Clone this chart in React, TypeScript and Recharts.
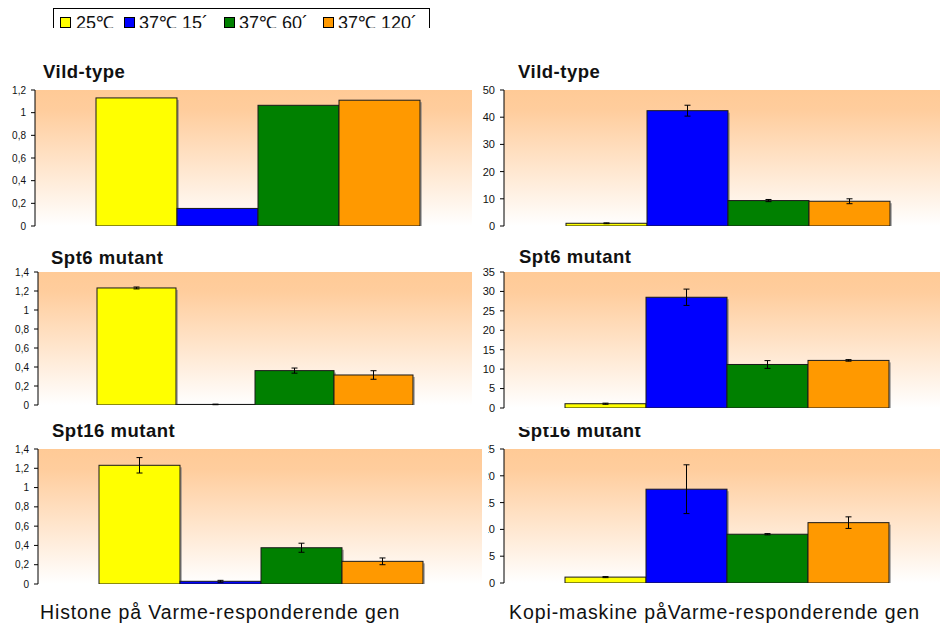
import React from 'react';
import { BarChart, Bar, XAxis, YAxis, CartesianGrid, ErrorBar } from 'recharts';

const seriesNames = ['25℃', '37℃ 15´', '37℃ 60´', '37℃ 120´'];
const seriesColors = ['#FFFF00', '#0000FF', '#008000', '#FF9900'];

// histone on the heat-responsive gene
const histoneWildValues = [1.13, 0.155, 1.065, 1.11];
const histoneSpt6Values = [1.232, 0.006, 0.362, 0.316];
const histoneSpt6Errors = [0.01, 0.003, 0.027, 0.045];
const histoneSpt16Values = [1.231, 0.028, 0.376, 0.235];
const histoneSpt16Errors = [0.08, 0.01, 0.047, 0.035];

// polymerase ("kopi-maskine") on the heat-responsive gene
const polWildValues = [1.0, 42.4, 9.35, 9.1];
const polWildErrors = [0.15, 2.0, 0.4, 0.9];
const polSpt6Values = [1.1, 28.5, 11.2, 12.25];
const polSpt6Errors = [0.15, 2.1, 1.0, 0.2];
const polSpt16Values = [1.1, 17.5, 9.1, 11.26];
const polSpt16Errors = [0.1, 4.55, 0.12, 1.08];

const histoneTicks12 = [0, 0.2, 0.4, 0.6, 0.8, 1, 1.2];
const histoneTicks14 = [0, 0.2, 0.4, 0.6, 0.8, 1, 1.2, 1.4];
const polTicksWild = [0, 10, 20, 30, 40, 50];
const polTicksSpt6 = [0, 5, 10, 15, 20, 25, 30, 35];
const polTicksSpt16 = [0, 5, 10, 15, 20, 25];

const leftCaption = 'Histone på Varme-responderende gen';
const rightCaption = 'Kopi-maskine påVarme-responderende gen';

const FONT = '"Liberation Sans", Arial, Helvetica, sans-serif';

const buildRow = (values: number[], errors?: number[]) => {
  const row: Record<string, any> = { name: 'gen' };
  values.forEach((v, i) => {
    row[`s${i}`] = v;
    if (errors) row[`e${i}`] = errors[i];
  });
  return [row];
};

const ShadowBar = (props: any) => {
  const { x, y, width, height, fill } = props;
  if (!width || height == null) return null;
  const h = Math.max(height, 0.6);
  return (
    <g>
      <rect x={x + 2} y={y + 2} width={width} height={h} fill="#7a7a7a" fillOpacity={0.55} />
      <rect x={x} y={y} width={width} height={h} fill={fill} stroke="#1a1a1a" strokeWidth={1} />
    </g>
  );
};

interface PanelProps {
  id: string;
  left: number;
  top: number;
  width: number;
  height: number;
  margin: { top: number; right: number; bottom: number; left: number };
  yWidth: number;
  gap: number;
  values: number[];
  errors?: number[];
  ticks: number[];
  title: string;
  titleX: number;
  titleY: number;
  tickFont: number;
  white: boolean;
  z: number;
}

const Panel = (p: PanelProps) => {
  const data = buildRow(p.values, p.errors);
  const max = p.ticks[p.ticks.length - 1];
  return (
    <div
      style={{
        position: 'absolute',
        left: p.left,
        top: p.top,
        width: p.width,
        height: p.height,
        background: p.white ? '#fff' : 'transparent',
        zIndex: p.z,
      }}
    >
      <BarChart width={p.width} height={p.height} data={data} margin={p.margin} barGap={0} barCategoryGap={p.gap}>
        <defs>
          <linearGradient id={`bg-${p.id}`} x1="0" y1="0" x2="0" y2="1">
            <stop offset="0%" stopColor="#FFCA96" />
            <stop offset="15%" stopColor="#FFCD9D" />
            <stop offset="100%" stopColor="#FFFFFF" />
          </linearGradient>
        </defs>
        <CartesianGrid horizontal={false} vertical={false} fill={`url(#bg-${p.id})`} stroke="none" />
        <XAxis dataKey="name" hide />
        <YAxis
          width={p.yWidth}
          domain={[0, max]}
          ticks={p.ticks}
          interval={0}
          allowDataOverflow
          axisLine={{ stroke: '#000', strokeWidth: 1 }}
          tickLine={{ stroke: '#000', strokeWidth: 1 }}
          tickSize={4}
          tickMargin={5}
          tick={{ fill: '#111', fontSize: p.tickFont, fontFamily: FONT }}
          tickFormatter={(v: number) => String(v).replace('.', ',')}
        />
        {seriesNames.map((name, i) => (
          <Bar
            key={name}
            dataKey={`s${i}`}
            name={name}
            fill={seriesColors[i]}
            shape={<ShadowBar />}
            isAnimationActive={false}
          >
            {p.errors && (
              <ErrorBar dataKey={`e${i}`} width={3} stroke="#000" strokeWidth={1} direction="y" />
            )}
          </Bar>
        ))}
      </BarChart>
      <svg
        width={p.width}
        height={p.height}
        style={{ position: 'absolute', left: 0, top: 0, pointerEvents: 'none' }}
      >
        <text x={p.titleX} y={p.titleY} fontFamily={FONT} fontWeight="bold" fontSize={18.5} letterSpacing={0.5} fill="#111">
          {p.title}
        </text>
      </svg>
    </div>
  );
};

const panels: PanelProps[] = [
  {
    id: 'tl', left: 0, top: 55, width: 482, height: 176,
    margin: { top: 35, right: 1, bottom: 5, left: 0 }, yWidth: 35, gap: 61,
    values: histoneWildValues, ticks: histoneTicks12,
    title: 'Vild-type', titleX: 43, titleY: 23, tickFont: 10, white: false, z: 1,
  },
  {
    id: 'tr', left: 472, top: 55, width: 480, height: 176,
    margin: { top: 35, right: 0, bottom: 5, left: 0 }, yWidth: 32, gap: 62,
    values: polWildValues, errors: polWildErrors, ticks: polTicksWild,
    title: 'Vild-type', titleX: 46, titleY: 23, tickFont: 11, white: true, z: 2,
  },
  {
    id: 'ml', left: 0, top: 237, width: 472, height: 173,
    margin: { top: 35, right: 0, bottom: 5, left: 0 }, yWidth: 38, gap: 59,
    values: histoneSpt6Values, errors: histoneSpt6Errors, ticks: histoneTicks14,
    title: 'Spt6 mutant', titleX: 51, titleY: 26.5, tickFont: 10, white: false, z: 1,
  },
  {
    id: 'mr', left: 472, top: 237, width: 478, height: 190,
    margin: { top: 35, right: 0, bottom: 19, left: 0 }, yWidth: 32, gap: 61,
    values: polSpt6Values, errors: polSpt6Errors, ticks: polTicksSpt6,
    title: 'Spt6 mutant', titleX: 47, titleY: 25.7, tickFont: 11, white: true, z: 3,
  },
  {
    id: 'br', left: 472, top: 410, width: 478, height: 178,
    margin: { top: 39, right: 0, bottom: 5, left: 0 }, yWidth: 32, gap: 61,
    values: polSpt16Values, errors: polSpt16Errors, ticks: polTicksSpt16,
    title: 'Spt16 mutant', titleX: 46, titleY: 26.7, tickFont: 11, white: true, z: 2,
  },
  {
    id: 'bl', left: 0, top: 410, width: 488, height: 179,
    margin: { top: 39, right: 6, bottom: 5, left: 0 }, yWidth: 38, gap: 61,
    values: histoneSpt16Values, errors: histoneSpt16Errors, ticks: histoneTicks14,
    title: 'Spt16 mutant', titleX: 52, titleY: 26.7, tickFont: 10, white: true, z: 4,
  },
];

const legendSwatchX = [7, 71, 171, 270];
const legendTextX = [23, 86, 186, 285];

const App = () => {
  return (
    <div
      style={{
        position: 'absolute',
        left: 0,
        top: 0,
        width: 940,
        height: 623,
        overflow: 'hidden',
        background: '#fff',
      }}
    >
      <svg width={377} height={20} style={{ position: 'absolute', left: 53, top: 8, zIndex: 6 }}>
        <line x1={0} y1={0.5} x2={377} y2={0.5} stroke="#000" />
        <line x1={0.5} y1={0} x2={0.5} y2={20} stroke="#000" />
        <line x1={376.5} y1={0} x2={376.5} y2={20} stroke="#000" />
        {seriesNames.map((name, i) => (
          <g key={name}>
            <rect x={legendSwatchX[i] + 0.5} y={9.5} width={10} height={10} fill={seriesColors[i]} stroke="#000" />
            <text x={legendTextX[i]} y={20.5} fontFamily={FONT} fontSize={18} fill="#111">
              {name}
            </text>
          </g>
        ))}
      </svg>
      {panels.map((p) => (
        <Panel key={p.id} {...p} />
      ))}
      <svg width={940} height={33} style={{ position: 'absolute', left: 0, top: 590, zIndex: 6 }}>
        <text x={40} y={29} fontFamily={FONT} fontSize={19.5} letterSpacing={0.88} fill="#111">
          {leftCaption}
        </text>
        <text x={509} y={29} fontFamily={FONT} fontSize={19.5} letterSpacing={0.9} fill="#111">
          {rightCaption}
        </text>
      </svg>
    </div>
  );
};

export default App;
